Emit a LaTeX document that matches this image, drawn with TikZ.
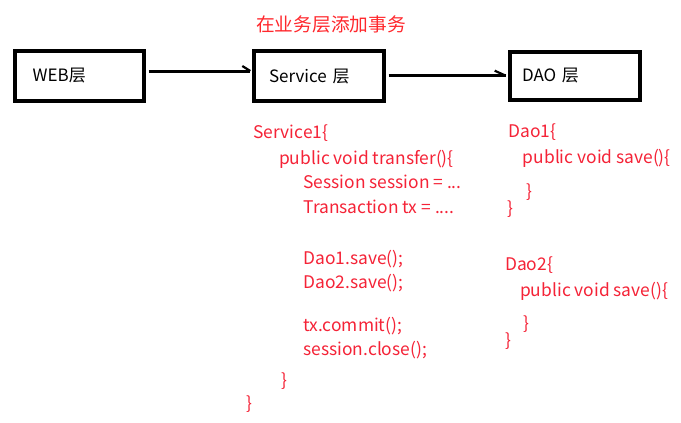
\documentclass[tikz,border=0pt]{standalone}
\usepackage{fontspec}
\setmainfont{Noto Sans CJK SC}
\usetikzlibrary{calc}
\definecolor{codered}{RGB}{245,35,55}
\definecolor{titlered}{RGB}{255,40,45}
\tikzset{
  box/.style={draw=black, line width=4pt, inner ysep=0pt, minimum height=50pt, align=left, font=\fontsize{17}{20}\selectfont},
  conn/.style={draw=black, line width=3pt},
  barb/.style={draw=black, line width=2.2pt},
  code/.style={anchor=base west, inner sep=0pt, text=codered, font=\fontsize{17.4}{20}\selectfont},
  ttl/.style={anchor=base west, inner sep=0pt, text=titlered, font=\fontsize{18.7}{22}\selectfont}
}
\begin{document}
\begin{tikzpicture}[x=1pt,y=-1pt]
\useasboundingbox (0,0) rectangle (681,423);
\fill[white] (0,0) rectangle (681,423);

% title
\node[ttl] (title) at (256,31.5) {在业务层添加事务};

% boxes
\node[box, inner xsep=18pt, text width=93pt] (web) at (79.2,75.5) {WEB层};
\node[box, inner xsep=14.7pt, text width=100pt, minimum height=50.3pt] (svc) at (319,76.2) {Service 层};
\node[box, inner xsep=12.3pt, text width=105.4pt, minimum height=47.7pt] (dao) at (574.7,75.9) {DAO 层};

% arrow WEB -> Service
\coordinate (a1s) at ($(web.east)+(3,-4.5)$);
\coordinate (a1e) at ($(a1s -| svc.west)+(-2,0)$);
\draw[conn] (a1s) -- (a1e);
\draw[barb] (a1e) -- ++(-8,-5);

% arrow Service -> DAO
\coordinate (a2s) at ($(svc.east)+(3,-0.5)$);
\coordinate (a2e) at ($(a2s -| dao.west)+(-2,0)$);
\draw[conn] (a2s) -- (a2e);
\draw[barb] (a2e) -- ++(-11,-5);

% Service code
\node[code] (s1) at (253.3,138.7) {Service1\{};
\node[code] (s2) at (279,164) {public void transfer()\{};
\node[code] (s3) at (303.3,188.7) {Session session = ...};
\node[code] (s4) at (303.3,213.7) {Transaction tx = ....};
\node[code] (s5) at (303.3,264.3) {Dao1.save();};
\node[code] (s6) at (303.3,288.7) {Dao2.save();};
\node[code] (s7) at (303.3,331) {tx.commit();};
\node[code] (s8) at (303.3,355.3) {session.close();};
\node[code] (s9) at (281.7,386) {\}};
\node[code] (s10) at (246.7,409.3) {\}};

% Dao code
\node[code] (d1) at (508.3,137.7) {Dao1\{};
\node[code] (d2) at (522.7,163.3) {public void save()\{};
\node[code] (d3) at (526.7,197.7) {\}};
\node[code] (d4) at (507.3,214.3) {\}};
\node[code] (e1) at (505,270) {Dao2\{};
\node[code] (e2) at (520,296) {public void save()\{};
\node[code] (e3) at (523.3,329.3) {\}};
\node[code] (e4) at (505,346) {\}};
\end{tikzpicture}
\end{document}
